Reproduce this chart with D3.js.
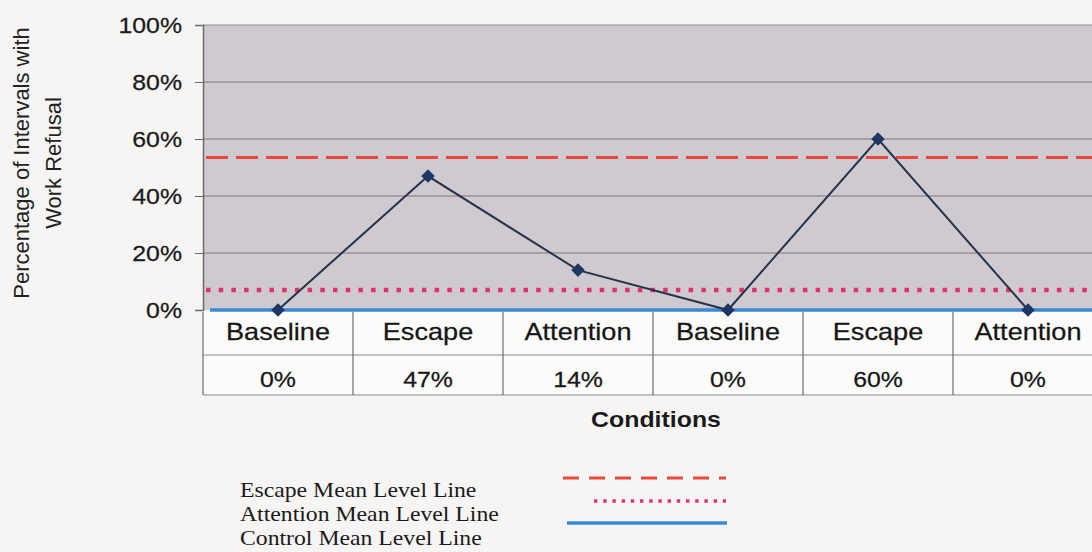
<!DOCTYPE html>
<html>
<head>
<meta charset="utf-8">
<script src="https://cdn.jsdelivr.net/npm/d3@7"></script>
<style>
  html, body { margin: 0; padding: 0; background: #f6f5f3; }
  svg { display: block; }
</style>
</head>
<body>
<svg id="chart" width="1092" height="552"></svg>
<script>
// Session conditions and percentage of intervals with work refusal
const conditions = ["Baseline", "Escape", "Attention", "Baseline", "Escape", "Attention"];
const refusal = [0, 47, 14, 0, 60, 0];
const yTicks = [0, 20, 40, 60, 80, 100];

// Mean level lines per condition type
const meanNames = ["Escape Mean Level Line", "Attention Mean Level Line", "Control Mean Level Line"];
const meanValues = [53.5, 7, 0];
const meanColors = ["#e8483e", "#e0336b", "#3b8ad6"];

const svg = d3.select("#chart");
const sans = "'Liberation Sans', Arial, sans-serif";
const serif = "'Liberation Serif', 'Times New Roman', serif";
const STRETCH = 1.13;

// widen glyphs horizontally around each text's own anchor point
function widen(sel) {
  sel.each(function () {
    const t = d3.select(this);
    const x = +t.attr("x") || 0, y = +t.attr("y") || 0;
    t.attr("x", 0).attr("y", 0)
     .attr("transform", `translate(${x},${y}) scale(${STRETCH},1)`);
  });
}

const plot = { left: 203, right: 1103, top: 25, bottom: 310 };
const x = d3.scaleBand().domain(d3.range(conditions.length)).range([plot.left, plot.right]);
const y = d3.scaleLinear().domain([0, 100]).range([plot.bottom, plot.top]);

// plot background
svg.append("rect")
  .attr("x", plot.left).attr("y", plot.top)
  .attr("width", plot.right - plot.left).attr("height", plot.bottom - plot.top)
  .attr("fill", "#cfcacf");

// horizontal gridlines
svg.append("g").selectAll("line").data(yTicks.filter(d => d > 0)).join("line")
  .attr("x1", plot.left).attr("x2", plot.right)
  .attr("y1", d => y(d)).attr("y2", d => y(d))
  .attr("stroke", d => d === 100 ? "#8d8a8d" : "#7d7478").attr("stroke-width", 1);

// y axis
const yAxis = svg.append("g")
  .attr("transform", `translate(${plot.left},0)`)
  .call(d3.axisLeft(y).tickValues(yTicks).tickFormat(d => d + "%").tickSize(8).tickPadding(13));
yAxis.select(".domain").attr("stroke", "#6d6a6d").attr("stroke-width", 1.5);
yAxis.selectAll(".tick line").attr("stroke", "#6d6a6d");
yAxis.selectAll(".tick text")
  .attr("font-family", sans).attr("font-size", 22).attr("fill", "#1a1a1a")
  .attr("stroke", "#1a1a1a").attr("stroke-width", 0.25);
yAxis.selectAll(".tick text").call(widen);

// y axis title, two lines
const yTitle = ["Percentage of Intervals with", "Work Refusal"];
const yTitleX = [29, 61];
svg.append("g").selectAll("text").data(yTitle).join("text")
  .attr("transform", (d, i) => `translate(${yTitleX[i]},163) rotate(-90)`)
  .attr("text-anchor", "middle")
  .attr("font-family", sans).attr("font-size", 22).attr("fill", "#222")
  .text(d => d);

// mean level lines
const dashes = ["22 8", "4.5 8.2", null];
const widths = [3, 4.5, 3.5];
svg.append("g").selectAll("line").data(meanValues).join("line")
  .attr("x1", (d, i) => i === 2 ? plot.left + 7 : plot.left + 3)
  .attr("x2", plot.right)
  .attr("y1", d => y(d)).attr("y2", d => y(d))
  .attr("stroke", (d, i) => meanColors[i])
  .attr("stroke-width", (d, i) => widths[i])
  .attr("stroke-dasharray", (d, i) => dashes[i]);

// data table under the plot
const rowTop = plot.bottom + 2, rowMid = 355, rowBottom = 395;
const table = svg.append("g");
table.append("rect")
  .attr("x", plot.left).attr("y", rowTop)
  .attr("width", plot.right - plot.left).attr("height", rowBottom - rowTop)
  .attr("fill", "#fbfbfa");
table.append("line")
  .attr("x1", plot.left).attr("x2", plot.right).attr("y1", rowMid).attr("y2", rowMid)
  .attr("stroke", "#8e8a8e").attr("stroke-width", 1.2);
table.append("line")
  .attr("x1", plot.left).attr("x2", plot.right).attr("y1", rowBottom).attr("y2", rowBottom)
  .attr("stroke", "#8e8a8e").attr("stroke-width", 1.2);
table.selectAll("line.col").data(d3.range(conditions.length + 1)).join("line")
  .attr("class", "col")
  .attr("x1", i => i < conditions.length ? x(i) : plot.right)
  .attr("x2", i => i < conditions.length ? x(i) : plot.right)
  .attr("y1", rowTop).attr("y2", rowBottom)
  .attr("stroke", "#6f6c6f").attr("stroke-width", 1.2);

table.selectAll("text.cat").data(conditions).join("text")
  .attr("class", "cat")
  .attr("x", (d, i) => x(i) + x.bandwidth() / 2).attr("y", 340)
  .attr("text-anchor", "middle")
  .attr("font-family", sans).attr("font-size", 24).attr("fill", "#151515")
  .attr("stroke", "#151515").attr("stroke-width", 0.25)
  .text(d => d)
  .call(widen);

table.selectAll("text.val").data(refusal).join("text")
  .attr("class", "val")
  .attr("x", (d, i) => x(i) + x.bandwidth() / 2).attr("y", 387)
  .attr("text-anchor", "middle")
  .attr("font-family", sans).attr("font-size", 22).attr("fill", "#151515")
  .attr("stroke", "#151515").attr("stroke-width", 0.25)
  .text(d => d + "%")
  .call(widen);

// x axis title
svg.append("text")
  .attr("x", 656).attr("y", 427)
  .attr("text-anchor", "middle")
  .attr("font-family", sans).attr("font-size", 22).attr("font-weight", "bold").attr("fill", "#1a1a1a")
  .text("Conditions")
  .call(widen);

// data series
const pts = refusal.map((v, i) => [x(i) + x.bandwidth() / 2, y(v)]);
svg.append("path")
  .attr("d", d3.line()(pts))
  .attr("fill", "none").attr("stroke", "#26324a").attr("stroke-width", 2);
svg.append("g").selectAll("path").data(pts).join("path")
  .attr("transform", d => `translate(${d[0]},${d[1]})`)
  .attr("d", d3.symbol(d3.symbolDiamond2, 90))
  .attr("fill", "#1f3764").attr("stroke", "#1f3764").attr("stroke-width", 1.2);

// legend
const legendY = [487, 511, 535];
const legend = svg.append("g");
legend.selectAll("text").data(meanNames).join("text")
  .attr("x", 240).attr("y", (d, i) => legendY[i] + 10)
  .attr("font-family", serif).attr("font-size", 21).attr("fill", "#1a1a1a")
  .text(d => d)
  .call(widen);
const legendLines = [
  { x1: 563, x2: 726, y: 478, dash: "16 10", w: 3 },
  { x1: 594, x2: 726, y: 501, dash: "3.4 5.8", w: 3.4 },
  { x1: 567, x2: 727, y: 523, dash: null, w: 3.5 }
];
legend.selectAll("line").data(legendLines).join("line")
  .attr("x1", d => d.x1).attr("x2", d => d.x2)
  .attr("y1", d => d.y).attr("y2", d => d.y)
  .attr("stroke", (d, i) => meanColors[i])
  .attr("stroke-width", d => d.w)
  .attr("stroke-dasharray", d => d.dash);
</script>
</body>
</html>
